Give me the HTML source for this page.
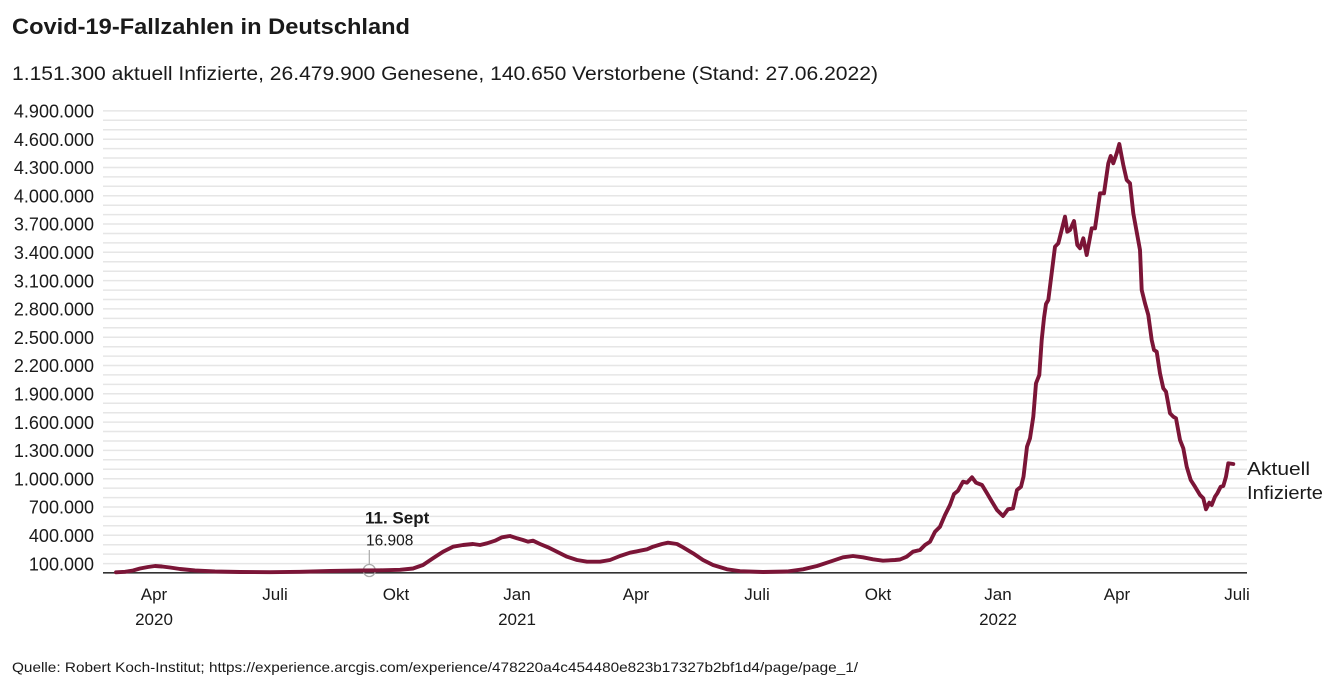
<!DOCTYPE html>
<html><head><meta charset="utf-8"><style>
html,body{margin:0;padding:0;background:#fff;}
svg{display:block;}
text{font-family:"Liberation Sans",sans-serif;fill:#1a1a1a;}
</style></head><body>
<svg width="1338" height="692" viewBox="0 0 1338 692" xmlns="http://www.w3.org/2000/svg">
<rect width="1338" height="692" fill="#fff"/>
<text x="12" y="34" font-size="22" font-weight="bold" textLength="398" lengthAdjust="spacingAndGlyphs">Covid-19-Fallzahlen in Deutschland</text>
<text x="12" y="80" font-size="19" textLength="866" lengthAdjust="spacingAndGlyphs">1.151.300 aktuell Infizierte, 26.479.900 Genesene, 140.650 Verstorbene (Stand: 27.06.2022)</text>
<g stroke="#e6e6e6" stroke-width="1.5">
<path d="M103 563.6H1247M103 554.1H1247M103 544.7H1247M103 535.3H1247M103 525.8H1247M103 516.4H1247M103 507H1247M103 497.6H1247M103 488.1H1247M103 478.7H1247M103 469.3H1247M103 459.8H1247M103 450.4H1247M103 441H1247M103 431.5H1247M103 422.1H1247M103 412.7H1247M103 403.2H1247M103 393.8H1247M103 384.4H1247M103 374.9H1247M103 365.5H1247M103 356.1H1247M103 346.7H1247M103 337.2H1247M103 327.8H1247M103 318.4H1247M103 308.9H1247M103 299.5H1247M103 290.1H1247M103 280.6H1247M103 271.2H1247M103 261.8H1247M103 252.3H1247M103 242.9H1247M103 233.5H1247M103 224H1247M103 214.6H1247M103 205.2H1247M103 195.8H1247M103 186.3H1247M103 176.9H1247M103 167.5H1247M103 158H1247M103 148.6H1247M103 139.2H1247M103 129.7H1247M103 120.3H1247M103 110.9H1247"/>
</g>
<g font-size="18" text-anchor="end">
<text x="94" y="117.5">4.900.000</text>
<text x="94" y="145.8">4.600.000</text>
<text x="94" y="174.1">4.300.000</text>
<text x="94" y="202.4">4.000.000</text>
<text x="94" y="230.7">3.700.000</text>
<text x="94" y="259">3.400.000</text>
<text x="94" y="287.3">3.100.000</text>
<text x="94" y="315.6">2.800.000</text>
<text x="94" y="343.9">2.500.000</text>
<text x="94" y="372.2">2.200.000</text>
<text x="94" y="400.5">1.900.000</text>
<text x="94" y="428.8">1.600.000</text>
<text x="94" y="457.1">1.300.000</text>
<text x="94" y="485.4">1.000.000</text>
<text x="94" y="513.7">700.000</text>
<text x="94" y="542">400.000</text>
<text x="94" y="570.3">100.000</text>
</g>
<line x1="103" y1="572.8" x2="1247" y2="572.8" stroke="#333" stroke-width="1.6"/>
<g font-size="17" text-anchor="middle">
<text x="154" y="600">Apr</text>
<text x="154" y="625">2020</text>
<text x="275" y="600">Juli</text>
<text x="396" y="600">Okt</text>
<text x="517" y="600">Jan</text>
<text x="517" y="625">2021</text>
<text x="636" y="600">Apr</text>
<text x="757" y="600">Juli</text>
<text x="878" y="600">Okt</text>
<text x="998" y="600">Jan</text>
<text x="998" y="625">2022</text>
<text x="1117" y="600">Apr</text>
<text x="1237" y="600">Juli</text>
</g>
<line x1="369.3" y1="564" x2="369.3" y2="550" stroke="#aaa" stroke-width="1.2"/>
<circle cx="369.3" cy="570.5" r="6" fill="none" stroke="#aaa" stroke-width="1.3"/>
<text x="365" y="523.5" font-size="17" font-weight="bold">11. Sept</text>
<text x="366" y="545.5" font-size="15.5">16.908</text>
<polyline fill="none" stroke="#7b1537" stroke-width="3.9" stroke-linejoin="round" stroke-linecap="round" points="116,572.3 125,571.8 133,570.5 140,568.5 148,567 155,566 162,566.5 170,567.5 180,569 195,570.5 215,571.5 240,572 270,572.2 300,571.8 330,571 360,570.5 380,570.3 400,569.8 413,568.5 423,565 433,558.3 443,551.7 453,546.7 463,545 473,544 480,545 487,543.3 495,540.7 502,537.3 510,536 517,538.3 523,540 528,541.7 533,540.7 540,544 548,547.3 557,551.7 567,556.7 577,560 587,561.7 600,561.7 610,560 620,556 630,552.7 640,550.7 647,549.3 653,546.7 662,544 668,542.7 677,544 683,547.3 693,553.3 703,560 713,565 727,569.3 740,571.2 763,572 787,571.5 803,569.3 817,566 830,561.7 843,557.3 853,556 863,557.3 873,559.3 883,560.7 895,560 900,559.5 906.7,556.7 913,551.7 920,550 925,545 930,541.7 935,531.7 940,526.7 945,515 950,505 954,494 958,490.7 963,481.7 967,482.7 972,477.3 976,482.7 982,485 987,493.3 992,501.7 997,510 1003,516 1008,509.3 1013,508.3 1017,490 1021,486.7 1023.5,476.7 1027,446.7 1030,438.3 1033.3,416.7 1036,383.3 1039.3,375 1041.7,340 1044,318 1046,304 1048.3,300 1055,246.7 1058.3,243.3 1065,216.7 1067.3,231.7 1070,230 1074,221 1077.3,245 1080,248.3 1083.3,238.3 1086.7,255 1091.7,228.3 1095,228.3 1100,193.3 1104,193.3 1108.3,163.3 1110.7,156 1113.3,163.3 1116.7,153.3 1119.3,144 1121.7,156.7 1123.3,165 1126.7,180 1130,183.3 1133.3,213.3 1140,250 1141.7,290 1145,303.3 1148.3,315 1151.7,340 1154,350 1156.7,351.7 1160,373.3 1163.3,388.3 1166,391.7 1170,413.3 1173.3,416.7 1176,418.3 1180,440 1183.3,448.3 1186.7,466.7 1190.7,480 1195,486.7 1200,495 1203.3,498.3 1206,509.3 1209.3,502.7 1211.7,505 1215,496.7 1217.3,493.3 1220.7,486.7 1223.3,486 1226,476.7 1228.3,463.3 1233.3,464"/>
<text x="1247" y="475" font-size="18" textLength="63" lengthAdjust="spacingAndGlyphs">Aktuell</text>
<text x="1247" y="499" font-size="18" textLength="76" lengthAdjust="spacingAndGlyphs">Infizierte</text>
<text x="12" y="672" font-size="14" textLength="846" lengthAdjust="spacingAndGlyphs">Quelle: Robert Koch-Institut; https://experience.arcgis.com/experience/478220a4c454480e823b17327b2bf1d4/page/page_1/</text>
</svg>
</body></html>
